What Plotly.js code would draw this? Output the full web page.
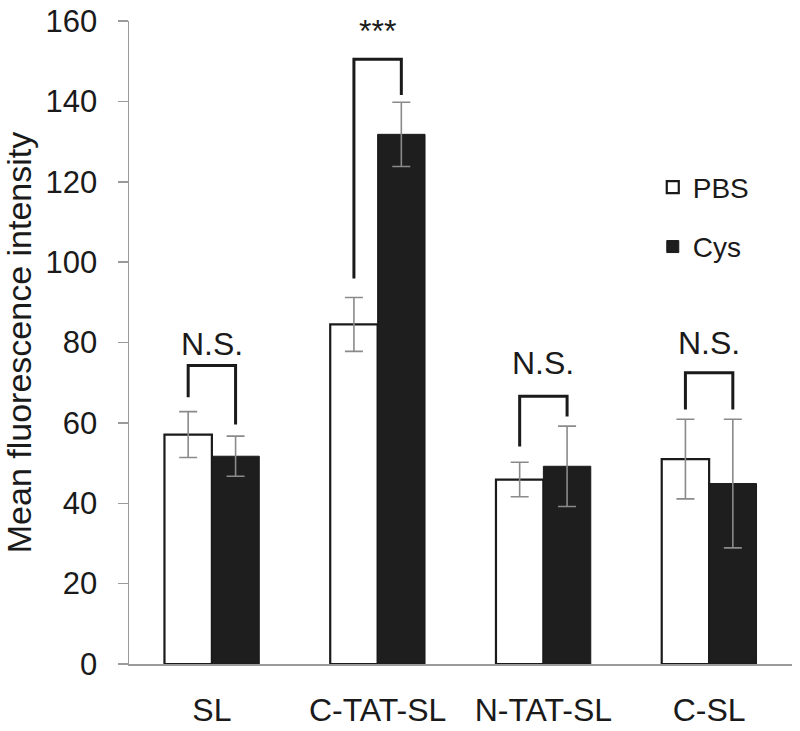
<!DOCTYPE html>
<html>
<head>
<meta charset="utf-8">
<script src="https://cdn.plot.ly/plotly-3.0.1.min.js"></script>
<style>html,body{margin:0;padding:0;background:#fff;}#chart{width:800px;height:731px;}</style>
</head>
<body>
<div id="chart"></div>
<script>
// Data
const categories = ["SL", "C-TAT-SL", "N-TAT-SL", "C-SL"];
const pbsMean = [57.1, 84.5, 45.9, 51.0];
const pbsErr  = [5.7, 6.7, 4.3, 9.9];
const cysMean = [51.7, 131.8, 49.2, 44.9];
const cysErr  = [5.0, 8.0, 10.0, 16.0];
// significance brackets
const sigLabels      = ["N.S.", "***", "N.S.", "N.S."];
const sigLabelY      = [79.6, 157.6, 75.0, 80.0];
const bracketTop     = [74.3, 150.5, 66.6, 72.5];
const bracketLeftLo  = [66.4, 95.9, 54.1, 63.3];
const bracketRightLo = [59.6, 141.6, 61.6, 63.3];
const yTicks = [0, 20, 40, 60, 80, 100, 120, 140, 160];

const FONT = "Liberation Sans, Arial, Helvetica, sans-serif";
const TXT = "#1a1a1a";
const idx = categories.map((_, i) => i);
const bargap = 0.428;
const half = (1 - bargap) / 4; // offset of each bar center from category center

const traces = [
  {
    type: "bar", name: "PBS", x: idx, y: pbsMean, legendgroup: "a",
    marker: {color: "#ffffff", line: {color: "#1a1a1a", width: 2.2}},
    error_y: {type: "data", array: pbsErr, visible: true, color: "#8a8a8a", thickness: 1.6, width: 9}
  },
  {
    type: "bar", name: "Cys", x: idx, y: cysMean, legendgroup: "b",
    marker: {color: "#1e1e1e", line: {color: "#1a1a1a", width: 1}},
    error_y: {type: "data", array: cysErr, visible: true, color: "#8a8a8a", thickness: 1.6, width: 9}
  }
];

const shapes = [
  // small extension of the x axis line to the left of the y axis
  {type: "line", xref: "paper", yref: "y", x0: -0.013, x1: 0, y0: 0, y1: 0,
   line: {color: "#9a9a9a", width: 1.5}}
];
const annotations = [];
idx.forEach(i => {
  const xl = i - half, xr = i + half;
  shapes.push({
    type: "path", xref: "x", yref: "y",
    path: `M ${xl},${bracketLeftLo[i]} L ${xl},${bracketTop[i]} L ${xr},${bracketTop[i]} L ${xr},${bracketRightLo[i]}`,
    line: {color: "#1a1a1a", width: 3}
  });
  annotations.push({
    x: i, y: sigLabelY[i], xref: "x", yref: "y", text: sigLabels[i],
    showarrow: false, font: {family: FONT, size: 32, color: TXT},
    xanchor: "center", yanchor: "middle"
  });
});

const layout = {
  width: 800, height: 731,
  margin: {l: 129, r: 8, t: 21, b: 67},
  paper_bgcolor: "#ffffff", plot_bgcolor: "#ffffff",
  barmode: "group", bargap: bargap, bargroupgap: 0,
  showlegend: true,
  legend: {
    x: 0.79, y: 0.78, xanchor: "left", yanchor: "top",
    font: {family: FONT, size: 28, color: TXT},
    tracegroupgap: 20, bgcolor: "rgba(0,0,0,0)", traceorder: "grouped"
  },
  xaxis: {
    range: [-0.5, 3.5], tickmode: "array", tickvals: idx, ticktext: categories,
    showline: true, linecolor: "#9a9a9a", linewidth: 1.5,
    ticks: "", showgrid: false, zeroline: false,
    tickfont: {family: FONT, size: 32, color: TXT},
    ticklabelstandoff: 17
  },
  yaxis: {
    range: [0, 160], tickmode: "array", tickvals: yTicks,
    showline: true, linecolor: "#9a9a9a", linewidth: 1.5,
    ticks: "outside", ticklen: 10, tickcolor: "#9a9a9a", tickwidth: 1.5,
    showgrid: false, zeroline: false,
    tickfont: {family: FONT, size: 31, color: TXT},
    ticklabelstandoff: 14,
    title: {text: "Mean fluorescence intensity", font: {family: FONT, size: 34, color: TXT}, standoff: 10}
  },
  shapes: shapes,
  annotations: annotations
};

Plotly.newPlot("chart", traces, layout, {staticPlot: true, displayModeBar: false});
</script>
</body>
</html>
